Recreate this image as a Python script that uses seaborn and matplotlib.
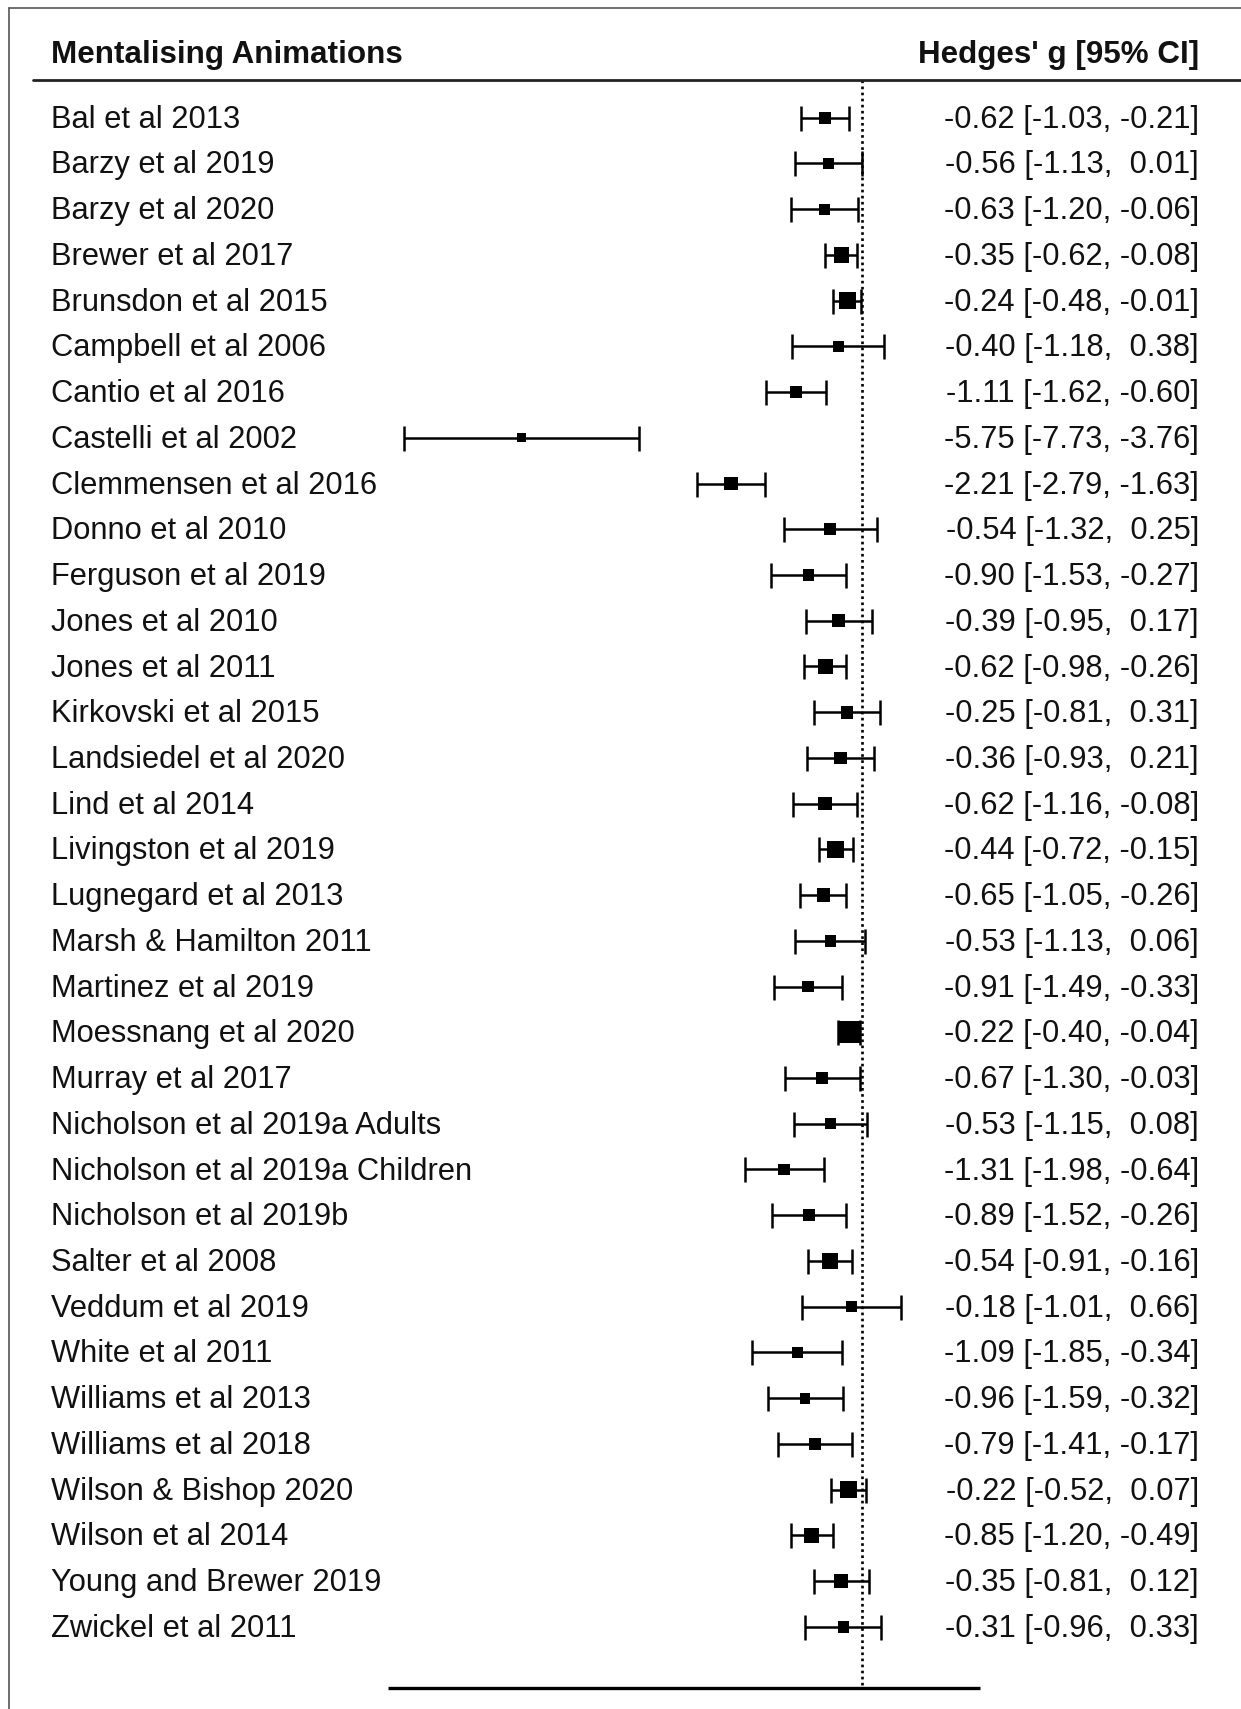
import matplotlib
matplotlib.use("Agg")
import matplotlib.pyplot as plt
from matplotlib.lines import Line2D
import seaborn as sns
import pandas as pd
import numpy as np

studies = [
    "Bal et al 2013", "Barzy et al 2019", "Barzy et al 2020", "Brewer et al 2017",
    "Brunsdon et al 2015", "Campbell et al 2006", "Cantio et al 2016", "Castelli et al 2002",
    "Clemmensen et al 2016", "Donno et al 2010", "Ferguson et al 2019", "Jones et al 2010",
    "Jones et al 2011", "Kirkovski et al 2015", "Landsiedel et al 2020", "Lind et al 2014",
    "Livingston et al 2019", "Lugnegard et al 2013", "Marsh & Hamilton 2011", "Martinez et al 2019",
    "Moessnang et al 2020", "Murray et al 2017", "Nicholson et al 2019a Adults",
    "Nicholson et al 2019a Children", "Nicholson et al 2019b", "Salter et al 2008",
    "Veddum et al 2019", "White et al 2011", "Williams et al 2013", "Williams et al 2018",
    "Wilson & Bishop 2020", "Wilson et al 2014", "Young and Brewer 2019", "Zwickel et al 2011",
]
g = [-0.62, -0.56, -0.63, -0.35, -0.24, -0.40, -1.11, -5.75, -2.21, -0.54, -0.90, -0.39,
     -0.62, -0.25, -0.36, -0.62, -0.44, -0.65, -0.53, -0.91, -0.22, -0.67, -0.53, -1.31,
     -0.89, -0.54, -0.18, -1.09, -0.96, -0.79, -0.22, -0.85, -0.35, -0.31]
ci_low = [-1.03, -1.13, -1.20, -0.62, -0.48, -1.18, -1.62, -7.73, -2.79, -1.32, -1.53, -0.95,
          -0.98, -0.81, -0.93, -1.16, -0.72, -1.05, -1.13, -1.49, -0.40, -1.30, -1.15, -1.98,
          -1.52, -0.91, -1.01, -1.85, -1.59, -1.41, -0.52, -1.20, -0.81, -0.96]
ci_high = [-0.21, 0.01, -0.06, -0.08, -0.01, 0.38, -0.60, -3.76, -1.63, 0.25, -0.27, 0.17,
           -0.26, 0.31, 0.21, -0.08, -0.15, -0.26, 0.06, -0.33, -0.04, -0.03, 0.08, -0.64,
           -0.26, -0.16, 0.66, -0.34, -0.32, -0.17, 0.07, -0.49, 0.12, 0.33]
# approximate study weights (%)
weight = [2.1, 1.7, 1.7, 4.2, 5.4, 1.7, 2.6, 0.8, 3.0, 2.1, 2.1, 3.0,
          4.2, 2.6, 2.6, 3.0, 5.4, 3.0, 2.1, 2.1, 10.2, 2.1, 1.7, 2.1,
          2.1, 4.2, 1.7, 1.7, 1.7, 2.1, 5.4, 4.2, 3.0, 2.1]
header_left = "Mentalising Animations"
header_right = "Hedges' g [95% CI]"

df = pd.DataFrame({"study": studies, "g": g, "lo": ci_low, "hi": ci_high, "w": weight})
df["row"] = np.arange(len(df))

sns.set_theme(style="white")
plt.rcParams["font.family"] = ["Liberation Sans", "DejaVu Sans"]

W, H = 1241, 1709
fig = plt.figure(figsize=(W / 100, H / 100), dpi=100)
ax = fig.add_axes([0, 0, 1, 1])

x0_px, px_per_unit = 861.9, 59.27
y0_px, px_per_row = 117.7, 45.73
ax.set_xlim(-x0_px / px_per_unit, (W - x0_px) / px_per_unit)
ax.set_ylim((H - y0_px) / px_per_row, -y0_px / px_per_row)
ax.axis("off")

# error bars
ax.errorbar(df["g"], df["row"], xerr=[df["g"] - df["lo"], df["hi"] - df["g"]],
            fmt="none", ecolor="black", elinewidth=1.8, capsize=9, capthick=1.8, zorder=2)

# weighted squares
k = 24.5
sns.scatterplot(data=df, x="g", y="row", size="w", sizes=(k * min(weight) + 22, k * max(weight) + 10),
                size_norm=(min(weight), max(weight)), marker="s", color="black",
                linewidth=0, legend=False, ax=ax, zorder=3)

# reference line at zero
header_row = (80 - y0_px) / px_per_row
axis_row = (1688 - y0_px) / px_per_row
ax.plot([0, 0], [header_row, axis_row], color="black", ls=(0, (1, 1.3)), lw=1.9, zorder=1)

# x axis line
ax.plot([-8, 2], [axis_row, axis_row], color="black", lw=2.4, solid_capstyle="butt")

tr = ax.get_yaxis_transform()
for _, r in df.iterrows():
    ax.text(51 / W, r["row"] + 0.22, r["study"], transform=tr, ha="left", va="baseline",
            fontsize=22.2, color="#111111")
    label = f"{r['g']:.2f} [{r['lo']:.2f}, {r['hi']:5.2f}]"
    ax.text(1199 / W, r["row"] + 0.22, label, transform=tr, ha="right", va="baseline",
            fontsize=22.2, color="#111111")

hdr_base = (63 - y0_px) / px_per_row
ax.text(51 / W, hdr_base, header_left, transform=tr, ha="left", va="baseline",
        fontsize=22.6, fontweight="bold", color="#111111")
ax.text(1199 / W, hdr_base, header_right, transform=tr, ha="right", va="baseline",
        fontsize=22.6, fontweight="bold", color="#111111")

# header rule
fig.add_artist(Line2D([32.7 / W, 1.0], [1 - 80 / H, 1 - 80 / H], color="#222222", lw=2.0))
# outer frame (left and top edges visible)
fig.add_artist(Line2D([8.7 / W, 8.7 / W], [0, 1 - 7.6 / H], color="#555555", lw=1.2))
fig.add_artist(Line2D([8.7 / W, 1.0], [1 - 7.6 / H, 1 - 7.6 / H], color="#555555", lw=1.2))

fig.savefig("out.png", dpi=100)
